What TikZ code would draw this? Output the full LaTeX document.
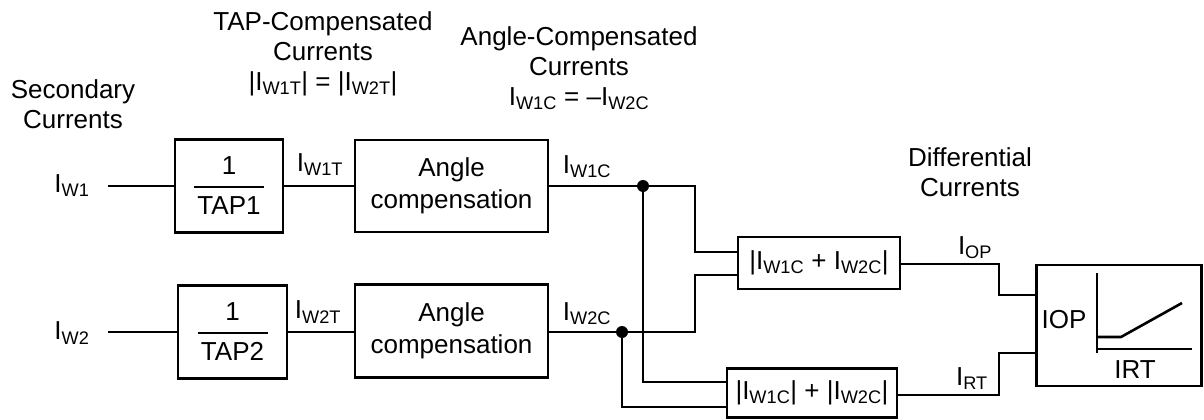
\documentclass[tikz,border=0pt]{standalone}
\usepackage{fontspec}
\setmainfont{Liberation Sans}
\begin{document}
\begin{tikzpicture}[x=1pt, y=-1pt,
            box/.style={rectangle, draw=black, line width=2.6pt, inner sep=0pt, align=center, font=\fontsize{26}{32}\selectfont},
            wire/.style={line width=2.6pt},
            lbl/.style={inner sep=0pt, font=\fontsize{26}{30}\selectfont},
            head/.style={inner sep=0pt, align=center, font=\fontsize{26}{30}\selectfont},
            dot/.style={circle, fill=black, inner sep=0pt, minimum size=12pt}
        ]
        \useasboundingbox (0,0) rectangle (1204,420);

        % headings
        \node[head] (hsec) at (73,104) {Secondary\\Currents};
        \node[head] (htap) at (323,54) {TAP-Compensated\\Currents\\|I\textsubscript{W1T}| = |I\textsubscript{W2T}|};
        \node[head] (hang) at (579,68) {Angle-Compensated\\Currents\\I\textsubscript{W1C} = –I\textsubscript{W2C}};
        \node[head] (hdif) at (970,172) {Differential\\Currents};

        % blocks
        \node[box, font=\fontsize{26}{40}\selectfont, minimum width=108pt, minimum height=93pt] (tap1) at (229,186) {1\\TAP1};
        \node[box, font=\fontsize{26}{40}\selectfont, minimum width=109pt, minimum height=93pt] (tap2) at (232.5,332) {1\\TAP2};
        \draw[line width=1.5pt] ([xshift=-35pt,yshift=-1pt]tap1.center) -- ++(70,0);
        \draw[line width=1.5pt] ([xshift=-35pt,yshift=-1pt]tap2.center) -- ++(70,0);
        \node[box, minimum width=193pt, minimum height=92pt] (ang1) at (451.5,186) {Angle\\compensation};
        \node[box, minimum width=193pt, minimum height=93pt] (ang2) at (451.5,331) {Angle\\compensation};
        \node[box, minimum width=162pt, minimum height=52pt] (sum1) at (819,263) {|I\textsubscript{W1C} + I\textsubscript{W2C}|};
        \node[box, minimum width=170pt, minimum height=49pt] (sum2) at (812,393) {|I\textsubscript{W1C}| + |I\textsubscript{W2C}|};
        \node[box, minimum width=165pt, minimum height=121pt] (chr) at (1119,325.5) {};

        % inputs
        \node[lbl] (iw1) at (72,186) {I\textsubscript{W1}};
        \node[lbl] (iw2) at (72,333) {I\textsubscript{W2}};
        \coordinate (in1) at (108,186);
        \coordinate (in2) at (108,332);
        \draw[wire] (in1) -- (tap1.west |- in1);
        \draw[wire] (in2) -- (tap2.west |- in2);
        \draw[wire] (tap1.east |- in1) -- (ang1.west |- in1);
        \draw[wire] (tap2.east |- in2) -- (ang2.west |- in2);
        \node[lbl] (iw1t) at (320,165) {I\textsubscript{W1T}};
        \node[lbl] (iw2t) at (318,312) {I\textsubscript{W2T}};

        % junctions
        \node[dot] (j1) at (643,186) {};
        \node[dot] (j2) at (622,332) {};
        \node[lbl] (iw1c) at (587,167) {I\textsubscript{W1C}};
        \node[lbl] (iw2c) at (587,314) {I\textsubscript{W2C}};
        \draw[wire] (ang1.east |- j1) -- (j1) -- (695,186) |- (sum1.west |- 0,252);
        \draw[wire] (ang2.east |- j2) -- (j2) -- (695,332) |- (sum1.west |- 0,275);
        \draw[wire] (j1) |- (sum2.west |- 0,382);
        \draw[wire] (j2) |- (sum2.west |- 0,407);

        % outputs
        \draw[wire] (sum1.east |- 0,264) -- (999,264) |- (chr.west |- 0,295);
        \draw[wire] (sum2.east |- 0,395) -- (999,395) |- (chr.west |- 0,353);
        \node[lbl] (iop) at (975,248) {I\textsubscript{OP}};
        \node[lbl] (irt) at (972,379) {I\textsubscript{RT}};

        % characteristic
        \draw[wire] (1097,273) -- (1097,353);
        \draw[wire] (1097,349) -- (1192,349);
        \draw[wire] (1097,337) -- (1121,337) -- (1182,303);
        \node[lbl] (lop) at (1064,320) {IOP};
        \node[lbl] (lrt) at (1135,370) {IRT};
    \end{tikzpicture}
\end{document}
